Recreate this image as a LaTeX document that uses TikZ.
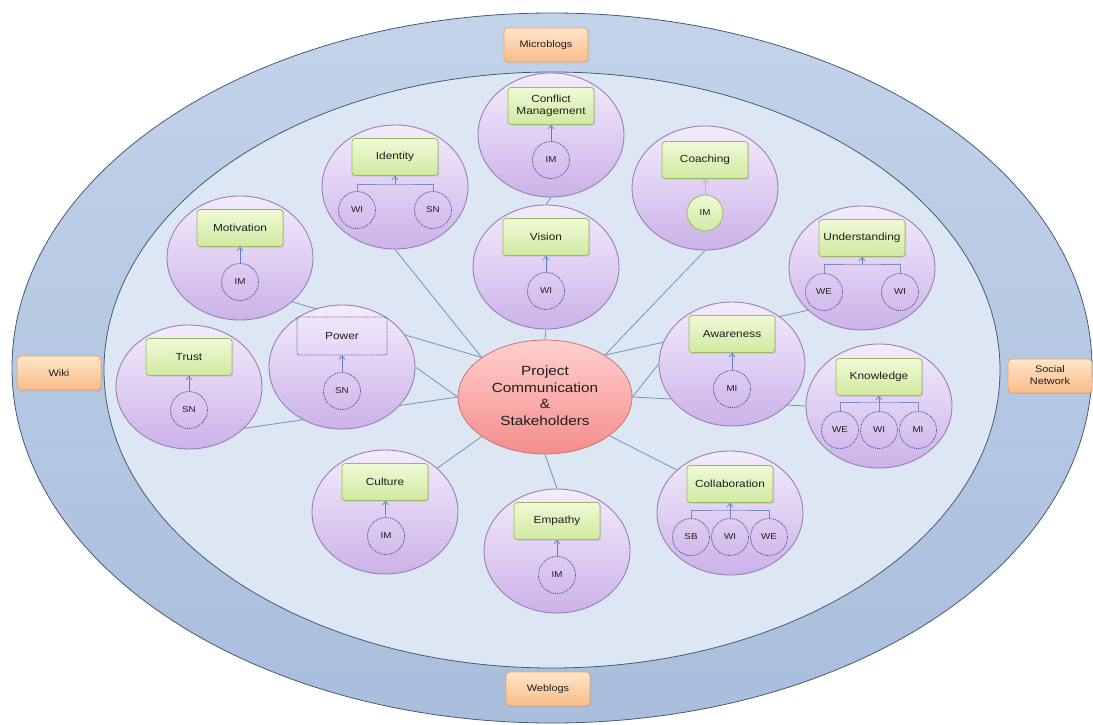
\documentclass[tikz,border=0pt]{standalone}
\usepackage{graphicx}
\usepackage{fontspec}
\setmainfont{Liberation Sans}
\usetikzlibrary{shapes.geometric,arrows.meta,shadows}

\pgfdeclarelayer{back}
\pgfdeclarelayer{links}
\pgfsetlayers{back,links,main}

\definecolor{ringtop}{RGB}{195,211,234}
\definecolor{ringbot}{RGB}{168,190,220}
\definecolor{ringedge}{RGB}{70,90,120}
\definecolor{innerfill}{RGB}{221,231,243}
\definecolor{bubbletop}{RGB}{244,236,252}
\definecolor{bubblebot}{RGB}{204,178,233}
\definecolor{bubbleedge}{RGB}{150,128,182}
\definecolor{boxtop}{RGB}{239,249,214}
\definecolor{boxbot}{RGB}{208,234,160}
\definecolor{boxedge}{RGB}{155,185,100}
\definecolor{hubtop}{RGB}{255,208,206}
\definecolor{hubbot}{RGB}{245,140,140}
\definecolor{hubedge}{RGB}{205,115,115}
\definecolor{mediatop}{RGB}{255,229,202}
\definecolor{mediabot}{RGB}{249,188,135}
\definecolor{mediaedge}{RGB}{236,165,105}
\definecolor{linkblue}{RGB}{115,148,185}
\definecolor{arrowblue}{RGB}{95,125,205}
\definecolor{tieblue}{RGB}{120,140,190}
\definecolor{tagedge}{RGB}{65,75,140}
\definecolor{coacharrow}{RGB}{185,195,130}
\definecolor{textdark}{RGB}{30,30,30}

% text in the picture is set a little wider than tall
\newcommand{\wx}[1]{\scalebox{1.15}[1]{#1}}

\begin{document}
\begin{tikzpicture}[x=1pt,y=1pt,yscale=-1,xscale=1,
  bubble/.style={ellipse, draw=bubbleedge, line width=0.9pt, top color=bubbletop, bottom color=bubblebot, minimum width=146pt, minimum height=124pt, inner sep=0pt},
  topic/.style={rectangle, rounded corners=3pt, draw=boxedge, line width=0.8pt, top color=boxtop, bottom color=boxbot, minimum width=86pt, minimum height=37pt, inner sep=1pt, align=center, text=textdark, font=\fontsize{10.3}{11.5}\selectfont, drop shadow={opacity=0.25, shadow xshift=1.2pt, shadow yshift=-1.2pt}},
  ghost/.style={rectangle, rounded corners=2pt, draw=tagedge, densely dotted, line width=0.9pt, minimum width=90pt, minimum height=38pt, inner sep=1pt, text=textdark, font=\fontsize{10.3}{11.5}\selectfont},
  tag/.style={circle, draw=tagedge, densely dotted, line width=0.85pt, minimum size=37pt, inner sep=0pt, text=textdark, font=\fontsize{8.5}{9}\selectfont},
  solidtag/.style={circle, draw=boxedge, line width=0.8pt, top color=boxtop, bottom color=boxbot, minimum size=36pt, inner sep=0pt, text=textdark, font=\fontsize{8.5}{9}\selectfont},
  hub/.style={ellipse, draw=hubedge, line width=0.8pt, top color=hubtop, bottom color=hubbot, minimum width=174pt, minimum height=114pt, inner sep=0pt, align=center, text=textdark, font=\fontsize{13.3}{16.5}\selectfont},
  media/.style={rectangle, rounded corners=4pt, draw=mediaedge, line width=0.8pt, top color=mediatop, bottom color=mediabot, minimum width=84pt, minimum height=34pt, inner sep=1pt, align=center, text=textdark, font=\fontsize{9.5}{12.5}\selectfont, drop shadow={opacity=0.2, shadow xshift=1.2pt, shadow yshift=-1.2pt}},
  link/.style={draw=linkblue, line width=0.8pt},
  tie/.style={draw=tieblue, line width=0.7pt},
  arr/.style={draw=arrowblue, line width=0.7pt, -{Straight Barb[length=3.5pt,width=6pt]}}]
\useasboundingbox (0,0) rectangle (1093,725);

%Shape: Ellipse [outer ring and inner field]
\begin{pgfonlayer}{back}
\draw [draw=ringedge, line width=0.8pt, top color=ringtop, bottom color=ringbot] (552,368) ellipse [x radius=540, y radius=355];
\draw [draw=ringedge, line width=0.8pt, fill=innerfill] (552,370) ellipse [x radius=448, y radius=298];
\end{pgfonlayer}

% Media Nodes
\node [media] (micro) at (546,45) {\wx{Microblogs}};
\node [media] (wiki) at (59,373) {\wx{Wiki}};
\node [media] (social) at (1050,376) {\wx{\begin{tabular}{@{}c@{}}Social\\Network\end{tabular}}};
\node [media] (weblogs) at (548,689) {\wx{Weblogs}};

% Hub
\node [hub] (hub) at (545,397) {\wx{\begin{tabular}{@{}c@{}}Project\\Communication\\\&\\Stakeholders\end{tabular}}};

% Conflict Management
\node [bubble] (confl) at (551,135) {};
\node [topic] (conflBox) at (551,106) {\wx{\begin{tabular}{@{}c@{}}Conflict\\Management\end{tabular}}};
\node [tag] (conflIM) at (551,160) {\wx{IM}};
\draw [arr] (conflIM) -- (conflBox);

% Identity
\node [bubble] (ident) at (395,187) {};
\node [topic] (identBox) at (395,157) {\wx{Identity}};
\node [tag] (identWI) at (357,210) {\wx{WI}};
\node [tag] (identSN) at (433,210) {\wx{SN}};
\coordinate (identJ) at (395,184);
\draw [tie] (identWI.north) |- (identJ) -| (identSN.north);
\draw [arr] (identJ) -- (identBox.south);

% Coaching
\node [bubble] (coach) at (705,188) {};
\node [topic] (coachBox) at (705,160) {\wx{Coaching}};
\node [solidtag] (coachIM) at (705,213) {\wx{IM}};
\draw [arr, draw=coacharrow] (coachIM) -- (coachBox);

% Motivation
\node [bubble] (motiv) at (240,258) {};
\node [topic] (motivBox) at (240,228) {\wx{Motivation}};
\node [tag] (motivIM) at (240,282) {\wx{IM}};
\draw [arr] (motivIM) -- (motivBox);

% Vision
\node [bubble] (vision) at (546,267) {};
\node [topic] (visionBox) at (546,237) {\wx{Vision}};
\node [tag] (visionWI) at (546,291) {\wx{WI}};
\draw [arr] (visionWI) -- (visionBox);

% Understanding
\node [bubble] (underst) at (862,268) {};
\node [topic] (understBox) at (862,238) {\wx{Understanding}};
\node [tag] (understWE) at (824,292) {\wx{WE}};
\node [tag] (understWI) at (900,292) {\wx{WI}};
\coordinate (understJ) at (862,264);
\draw [tie] (understWE.north) |- (understJ) -| (understWI.north);
\draw [arr] (understJ) -- (understBox.south);

% Trust
\node [bubble] (trust) at (189,387) {};
\node [topic] (trustBox) at (189,357) {\wx{Trust}};
\node [tag] (trustSN) at (189,410) {\wx{SN}};
\draw [arr] (trustSN) -- (trustBox);

% Power
\node [bubble] (power) at (342,367) {};
\node [ghost] (powerBox) at (342,336) {\wx{Power}};
\node [tag] (powerSN) at (342,391) {\wx{SN}};
\draw [arr] (powerSN) -- (powerBox);

% Awareness
\node [bubble] (aware) at (732,364) {};
\node [topic] (awareBox) at (732,334) {\wx{Awareness}};
\node [tag] (awareMI) at (732,389) {\wx{MI}};
\draw [arr] (awareMI) -- (awareBox);

% Knowledge
\node [bubble] (knowl) at (879,406) {};
\node [topic] (knowlBox) at (879,377) {\wx{Knowledge}};
\node [tag] (knowlWE) at (840,430) {\wx{WE}};
\node [tag] (knowlWI) at (879,430) {\wx{WI}};
\node [tag] (knowlMI) at (918,430) {\wx{MI}};
\coordinate (knowlJ) at (879,402);
\draw [tie] (knowlWE.north) |- (knowlJ) -| (knowlMI.north);
\draw [tie] (knowlWI.north) -- (knowlJ);
\draw [arr] (knowlJ) -- (knowlBox.south);

% Culture
\node [bubble] (culture) at (385,512) {};
\node [topic] (cultureBox) at (385,482) {\wx{Culture}};
\node [tag] (cultureIM) at (386,536) {\wx{IM}};
\draw [arr] (cultureIM) -- (cultureBox);

% Empathy
\node [bubble] (empathy) at (557,551) {};
\node [topic] (empathyBox) at (557,521) {\wx{Empathy}};
\node [tag] (empathyIM) at (557,575) {\wx{IM}};
\draw [arr] (empathyIM) -- (empathyBox);

% Collaboration
\node [bubble] (collab) at (730,513) {};
\node [topic] (collabBox) at (730,484) {\wx{Collaboration}};
\node [tag] (collabSB) at (691,537) {\wx{SB}};
\node [tag] (collabWI) at (730,537) {\wx{WI}};
\node [tag] (collabWE) at (769,537) {\wx{WE}};
\coordinate (collabJ) at (730,510);
\draw [tie] (collabSB.north) |- (collabJ) -| (collabWE.north);
\draw [tie] (collabWI.north) -- (collabJ);
\draw [arr] (collabJ) -- (collabBox.south);

%Straight Lines [hub links, behind the bubbles]
\begin{pgfonlayer}{links}
\draw [link] (confl.south) -- (vision.north);
\draw [link] (vision.south) -- (hub.90);
\draw [link] (ident.south) -- (hub.148);
\draw [link] (motiv.-40) -- (hub.148);
\draw [link] (power.east) -- (hub.180);
\draw [link] (trust.-37) -- (hub.180);
\draw [link] (coach.south) -- (hub.35);
\draw [link] (underst.218) -- (hub.35);
\draw [link] (aware.west) -- (hub.0);
\draw [link] (knowl.west) -- (hub.0);
\draw [link] (culture.40) -- (hub.212);
\draw [link] (empathy.north) -- (hub.270);
\draw [link] (collab.141) -- (hub.329);
\end{pgfonlayer}

\end{tikzpicture}
\end{document}
